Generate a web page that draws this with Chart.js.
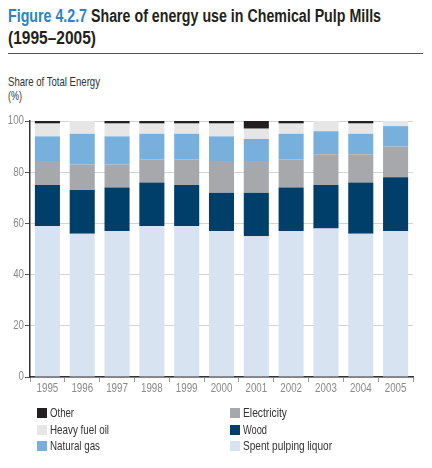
<!DOCTYPE html>
<html>
<head>
<meta charset="utf-8">
<script src="https://cdn.jsdelivr.net/npm/chart.js@4.4.1/dist/chart.umd.min.js"></script>
<style>
  html, body { margin:0; padding:0; background:#fff; }
  body { width:432px; height:468px; position:relative; overflow:hidden; font-family:"Liberation Sans",Arial,sans-serif; }
  .fit { display:inline-block; white-space:nowrap; transform-origin:0 50%; }
  .title { position:absolute; left:8px; top:5px; font-weight:bold; font-size:18px; line-height:22px; color:#231f20; }
  .title div { height:22px; }
  .title .fig { color:#2b83c6; }
  .rule { position:absolute; left:8px; top:53px; width:415px; height:0; border-top:1.5px solid #555; }
  .ytitle { position:absolute; left:8px; top:75px; font-size:13px; line-height:14px; color:#333; }
  .ytitle div { height:14px; }
  #wrap { position:absolute; left:0; top:100px; width:432px; height:310px; }
  .legend { position:absolute; top:406px; font-size:13px; color:#333; }
  .legend > div { height:16.5px; line-height:14px; white-space:nowrap; }
  .legend span.sw { display:inline-block; width:10px; height:10px; vertical-align:-1px; margin-right:3px; }
</style>
</head>
<body>
<div class="title">
  <div><span class="fit" data-w="373"><span class="fig">Figure 4.2.7</span> Share of energy use in Chemical Pulp Mills</span></div>
  <div><span class="fit" data-w="88">(1995–2005)</span></div>
</div>
<div class="rule"></div>
<div class="ytitle">
  <div><span class="fit" data-w="92">Share of Total Energy</span></div>
  <div><span class="fit" data-w="14">(%)</span></div>
</div>
<div id="wrap"><canvas id="chart"></canvas></div>
<div class="legend" id="leg1" style="left:37px"></div>
<div class="legend" id="leg2" style="left:230px"></div>
<script>
// Dados (% do total)
const years = ['1995','1996','1997','1998','1999','2000','2001','2002','2003','2004','2005'];
const spentLiquor  = [59,56,57,59,59,57,55,57,58,56,57];
const wood         = [16,17,17,17,16,15,17,17,17,20,21];
const electricity  = [9,10,9,9,10,12,12,11,12,11,12];
const naturalGas   = [10,12,11,10,10,10,9,10,9,8,8];
const heavyFuelOil = [5,5,5,4,4,5,4,4,4,4,2];
const other        = [1,0,1,1,1,1,3,1,0,1,0];
const yTicks = [0,20,40,60,80,100];

const series = [
  { label:'Spent pulping liquor', data:spentLiquor,  color:'#d7e3f1', w:89 },
  { label:'Wood',                 data:wood,         color:'#003f69', w:24 },
  { label:'Electricity',          data:electricity,  color:'#a6a8ab', w:44 },
  { label:'Natural gas',          data:naturalGas,   color:'#78b0dd', w:50 },
  { label:'Heavy fuel oil',       data:heavyFuelOil, color:'#e6e6e6', w:59 },
  { label:'Other',                data:other,        color:'#231f20', w:24 }
];

const TICK_FONT = '12.5px "Liberation Sans", Arial, sans-serif';
const SQUEEZE = 0.78;

// desenha os rótulos dos eixos com fonte estreitada
const narrowTicks = {
  id: 'narrowTicks',
  afterDraw(chart) {
    const { ctx, scales:{ x, y } } = chart;
    ctx.save();
    ctx.font = TICK_FONT;
    ctx.fillStyle = '#8a8a8a';
    ctx.textBaseline = 'middle';
    ctx.textAlign = 'center';
    years.forEach((yr, i) => {
      const px = x.getPixelForValue(i);
      ctx.save();
      ctx.translate(px, x.top + 12);
      ctx.scale(SQUEEZE, 1);
      ctx.fillText(yr, 0, 0);
      ctx.restore();
    });
    ctx.textAlign = 'right';
    yTicks.forEach(v => {
      const py = y.getPixelForValue(v);
      ctx.save();
      ctx.translate(y.right - 6, py);
      ctx.scale(SQUEEZE, 1);
      ctx.fillText(String(v), 0, 0);
      ctx.restore();
    });
    ctx.restore();
  }
};

new Chart(document.getElementById('chart'), {
  type: 'bar',
  data: {
    labels: years,
    datasets: series.map(s => ({
      label: s.label, data: s.data, backgroundColor: s.color,
      borderWidth: 0, barPercentage: 0.72, categoryPercentage: 1
    }))
  },
  options: {
    responsive: true, maintainAspectRatio: false, animation: false,
    layout: { padding: { top: 21, right: 19, left: 0, bottom: 0 } },
    plugins: { legend: { display:false }, tooltip: { enabled:false } },
    scales: {
      x: {
        stacked: true,
        grid: { drawOnChartArea:false, tickLength:5, tickColor:'#999', offset:true },
        border: { color:'#333', width:1.5 },
        ticks: { display:false },
        afterFit: sc => { sc.height = 33; }
      },
      y: {
        stacked: true, min:0, max:100,
        afterBuildTicks: sc => { sc.ticks = yTicks.map(v => ({ value:v })); },
        grid: { color:'#d4d4d4', lineWidth:1, tickLength:5, tickColor:'#555' },
        border: { color:'#333', width:1.5 },
        ticks: { display:false },
        afterFit: sc => { sc.width = 30; }
      }
    }
  },
  plugins: [narrowTicks]
});

// Legenda em duas colunas (ordem inversa da pilha)
const rev = series.slice().reverse();
const item = s => `<div><span class="sw" style="background:${s.color}"></span><span class="fit" data-w="${s.w}">${s.label}</span></div>`;
document.getElementById('leg1').innerHTML = rev.slice(0,3).map(item).join('');
document.getElementById('leg2').innerHTML = rev.slice(3).map(item).join('');

// ajusta a largura dos textos à largura do original
document.querySelectorAll('.fit').forEach(el => {
  const w = el.getBoundingClientRect().width;
  const target = Number(el.dataset.w);
  if (w && target) el.style.transform = `scaleX(${target / w})`;
});
</script>
</body>
</html>
